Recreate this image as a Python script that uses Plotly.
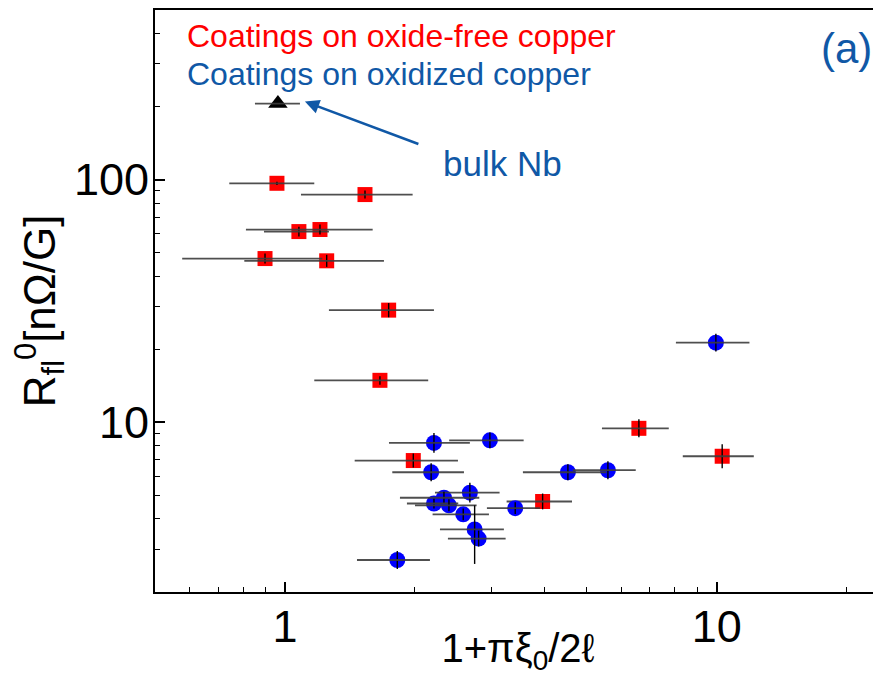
import plotly.graph_objects as go

# ---- data: coatings on oxide-free copper (red squares)
red_x    = [0.958, 1.532, 1.077, 1.205, 0.899, 1.249, 1.738, 1.659, 1.982, 6.60, 10.29, 3.95]
red_xlo  = [0.743, 1.089, 0.894, 0.812, 0.578, 0.805, 1.264, 1.169, 1.45, 5.42, 8.34, 3.26]
red_xhi  = [1.169, 1.975, 1.264, 1.596, 1.22, 1.695, 2.213, 2.146, 2.515, 7.74, 12.18, 4.62]
red_y    = [96.6, 86.8, 61.1, 62.3, 47.3, 46.3, 29.0, 14.9, 6.96, 9.45, 7.25, 4.72]
red_ylo  = [95.0, 83.6, 58.3, 59.4, 45.1, 43.7, 27.1, 14.3, 6.51, 8.68, 6.47, 4.38]
red_yhi  = [98.0, 90.2, 64.0, 65.3, 49.6, 49.0, 31.0, 15.5, 7.44, 10.3, 8.12, 5.09]

# ---- data: coatings on oxidized copper (blue circles)
blue_x   = [2.213, 2.982, 2.18, 4.52, 5.595, 9.95, 2.68, 2.334, 2.213, 2.397, 2.587, 2.749, 2.808, 3.413, 1.82]
blue_xlo = [1.741, 2.40, 1.772, 3.556, 4.64, 8.04, 2.225, 1.846, 1.916, 2.0, 2.197, 2.285, 2.384, 2.935, 1.468]
blue_xhi = [2.68, 3.57, 2.597, 5.55, 6.49, 11.9, 3.14, 2.818, 2.519, 2.778, 2.967, 3.213, 3.243, 3.894, 2.166]
blue_y   = [8.23, 8.43, 6.23, 6.23, 6.35, 21.3, 5.13, 4.89, 4.63, 4.55, 4.18, 3.62, 3.32, 4.43, 2.71]
blue_ylo = [7.49, 7.82, 5.72, 5.78, 5.83, 19.6, 4.67, 4.62, 4.42, 4.30, 3.95, 2.61, 3.08, 4.19, 2.49]
blue_yhi = [9.05, 9.09, 6.78, 6.72, 6.91, 23.2, 5.64, 5.18, 4.85, 4.82, 4.42, 4.55, 3.58, 4.69, 2.95]

# ---- data: bulk Nb (black triangle)
nb_x, nb_xlo, nb_xhi = [0.963], [0.852], [1.083]
nb_y = [205.8]

RED = "#ff0000"
BLUE = "#0000ff"
TXT_BLUE = "#1058a6"
FONT = "Liberation Sans, Arial, sans-serif"


def errs(v, lo, hi):
    plus = [h - c for c, h in zip(v, hi)]
    minus = [c - l for c, l in zip(v, lo)]
    return plus, minus


fig = go.Figure()


def add_series(x, y, xlo, xhi, ylo, yhi, symbol, color, size):
    xp, xm = errs(x, xlo, xhi)
    fig.add_trace(go.Scatter(
        x=x, y=y, mode="markers",
        marker=dict(symbol=symbol, color=color, size=size, line=dict(width=0)),
        showlegend=False, hoverinfo="skip"))
    ex = dict(type="data", symmetric=False, array=xp, arrayminus=xm,
              color="rgba(60,60,60,0.9)", thickness=1.8, width=0)
    ey = None
    if ylo is not None:
        yp, ym = errs(y, ylo, yhi)
        ey = dict(type="data", symmetric=False, array=yp, arrayminus=ym,
                  color="black", thickness=1.4, width=0)
    fig.add_trace(go.Scatter(
        x=x, y=y, mode="markers",
        marker=dict(size=1, color="rgba(0,0,0,0)"),
        error_x=ex, error_y=ey,
        showlegend=False, hoverinfo="skip"))


add_series(red_x, red_y, red_xlo, red_xhi, red_ylo, red_yhi, "square", RED, 15)
add_series(blue_x, blue_y, blue_xlo, blue_xhi, blue_ylo, blue_yhi, "circle", BLUE, 16)
add_series(nb_x, nb_y, nb_xlo, nb_xhi, None, None, "triangle-up", "black", 17)

axis_common = dict(
    type="log", dtick=1, tick0=0, automargin=False,
    ticks="inside", ticklen=10, tickwidth=1.5, tickcolor="black",
    minor=dict(ticks="inside", ticklen=5, tickwidth=1.2, tickcolor="black",
               dtick="D1", showgrid=False),
    showline=True, linecolor="black", linewidth=2,
    showgrid=False, zeroline=False,
    tickfont=dict(family=FONT, size=45, color="black"),
)

fig.update_xaxes(**axis_common, range=[-0.30103, 1.3802], mirror=True,
                 ticklabelstandoff=-6,
                 title=dict(text="1+πξ<sub>0</sub>/2ℓ",
                            font=dict(family=FONT, size=40, color="black"),
                            standoff=6))
fig.update_yaxes(**axis_common, range=[0.30103, 2.69897], ticklabelstandoff=-5)

fig.update_layout(
    width=873, height=668,
    margin=dict(l=147, r=0, t=2, b=84),
    paper_bgcolor="white", plot_bgcolor="white",
    font=dict(family=FONT),
    annotations=[
        dict(text="R<sub>fl</sub><sup>0</sup>[nΩ/G]", xref="paper", yref="paper",
             x=-0.158, y=0.483, xanchor="center", yanchor="middle", textangle=-90,
             showarrow=False, font=dict(family=FONT, size=44, color="black")),
        dict(text="Coatings on oxide-free copper", xref="paper", yref="paper",
             x=0.042, y=0.955, xanchor="left", yanchor="middle", showarrow=False,
             font=dict(family=FONT, size=32, color=RED)),
        dict(text="Coatings on oxidized copper", xref="paper", yref="paper",
             x=0.042, y=0.890, xanchor="left", yanchor="middle", showarrow=False,
             font=dict(family=FONT, size=32, color=TXT_BLUE)),
        dict(text="(a)", xref="paper", yref="paper",
             x=0.952, y=0.933, xanchor="center", yanchor="middle", showarrow=False,
             font=dict(family=FONT, size=42, color=TXT_BLUE)),
        dict(text="bulk Nb", xref="paper", yref="paper",
             x=0.479, y=0.737, xanchor="center", yanchor="middle", showarrow=False,
             font=dict(family=FONT, size=35, color=TXT_BLUE)),
        dict(text="", x=0.0461, y=2.3217, xref="x", yref="y",
             showarrow=True, ax=115, ay=43, axref="pixel", ayref="pixel",
             arrowhead=2, arrowsize=1.1, arrowwidth=2.6, arrowcolor=TXT_BLUE),
    ],
)

fig.write_html("out.html")
